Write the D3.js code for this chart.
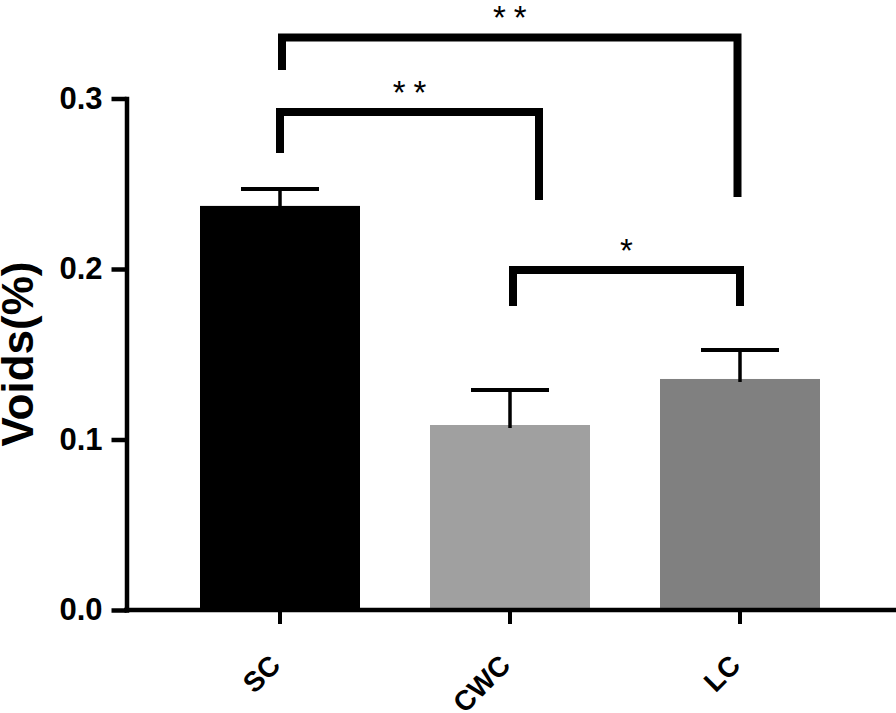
<!DOCTYPE html>
<html><head><meta charset="utf-8">
<script src="https://cdn.jsdelivr.net/npm/d3@7"></script>
<style>body{margin:0;background:#fff}svg{display:block}</style>
</head><body>
<svg id="chart" width="896" height="713"></svg>
<script>
// ---- data ----
const categories = ["SC", "CWC", "LC"];
const means = [0.2370, 0.1085, 0.1355];
const errors = [0.0099, 0.0205, 0.0170];
const barColors = ["#000000", "#a0a0a0", "#808080"];
const yTicks = [0.0, 0.1, 0.2, 0.3];
const yTickLabels = ["0.0", "0.1", "0.2", "0.3"];
const yLabel = "Voids(%)";
const bracketFrom = ["SC", "SC", "CWC"];
const bracketTo = ["LC", "CWC", "LC"];
const bracketLevel = [0.3358, 0.2921, 0.1994];
const bracketFromEnd = [0.3167, 0.2680, 0.1783];
const bracketToEnd = [0.2422, 0.2405, 0.1783];
const bracketLabels = ["**", "**", "*"];

// ---- layout / style ----
const W = 896, H = 713;
const FONT = "Arial, 'Liberation Sans', sans-serif";
const legDx = [[2, -2.5], [0, 29], [3, 0]];
const svg = d3.select("#chart");

const x = d3.scaleBand().domain(categories).range([200, 820]).paddingInner(70 / 230).paddingOuter(0);
const y = d3.scaleLinear().domain([0, 0.3]).range([610, 98.5]);
const cx = c => x(c) + x.bandwidth() / 2;

// bars
svg.append("g").selectAll("rect").data(categories).join("rect")
  .attr("x", d => x(d)).attr("width", x.bandwidth())
  .attr("y", (d, i) => y(means[i])).attr("height", (d, i) => y(0) - y(means[i]))
  .attr("fill", (d, i) => barColors[i]);

// error bars (upper only)
const eg = svg.append("g").attr("stroke", "#000");
categories.forEach((c, i) => {
  eg.append("line").attr("x1", cx(c)).attr("x2", cx(c))
    .attr("y1", y(means[i]) + 3).attr("y2", y(means[i] + errors[i])).attr("stroke-width", 3.5);
  eg.append("line").attr("x1", cx(c) - 39).attr("x2", cx(c) + 39)
    .attr("y1", y(means[i] + errors[i])).attr("y2", y(means[i] + errors[i])).attr("stroke-width", 4);
});

// y axis
const yAxis = d3.axisLeft(y).tickValues(yTicks).tickSize(15).tickSizeOuter(0).tickPadding(9)
  .tickFormat((d, i) => yTickLabels[i]);
const yg = svg.append("g").attr("transform", "translate(126.5,0)").call(yAxis);
yg.selectAll("path,line").attr("stroke", "#000").attr("stroke-width", 4.5);
yg.select(".domain").attr("stroke-linecap", "square");
yg.selectAll("text").attr("font-family", FONT).attr("font-weight", "bold")
  .attr("font-size", 31).attr("fill", "#000");

// x axis
const xAxis = d3.axisBottom(x).tickSize(14).tickSizeOuter(0).tickPadding(0);
const xg = svg.append("g").attr("transform", "translate(0,610)").call(xAxis);
xg.select(".domain").remove();
xg.selectAll("line").attr("stroke", "#000").attr("stroke-width", 4);
xg.selectAll("text").attr("font-family", FONT).attr("font-weight", "bold")
  .attr("font-size", 28).attr("fill", "#000")
  .attr("text-anchor", "end").attr("dy", null).attr("y", null)
  .attr("transform", "translate(2,57) rotate(-45)");
svg.append("line").attr("x1", 124).attr("x2", W).attr("y1", y(0)).attr("y2", y(0))
  .attr("stroke", "#000").attr("stroke-width", 4.5);

// y label
svg.append("text").attr("transform", `translate(33,354) rotate(-90)`)
  .attr("text-anchor", "middle").attr("font-family", FONT).attr("font-weight", "bold")
  .attr("font-size", 44).attr("fill", "#000").text(yLabel);

// significance brackets
const bg = svg.append("g");
bracketLabels.forEach((lab, i) => {
  const x1 = cx(bracketFrom[i]) + legDx[i][0];
  const x2 = cx(bracketTo[i]) + legDx[i][1];
  const yl = y(bracketLevel[i]);
  bg.append("path")
    .attr("d", `M${x1},${y(bracketFromEnd[i])}V${yl}H${x2}V${y(bracketToEnd[i])}`)
    .attr("fill", "none").attr("stroke", "#000").attr("stroke-width", 8)
    .attr("stroke-linejoin", "miter").attr("stroke-linecap", "butt");
  const ls = 8;
  bg.append("text").attr("x", (x1 + x2) / 2 + (lab.length > 1 ? ls / 2 : 0)).attr("y", yl - 8)
    .attr("text-anchor", "middle").attr("font-family", FONT)
    .attr("letter-spacing", lab.length > 1 ? ls : 0)
    .attr("font-size", 33).attr("fill", "#000").text(lab);
});
</script>
</body></html>
